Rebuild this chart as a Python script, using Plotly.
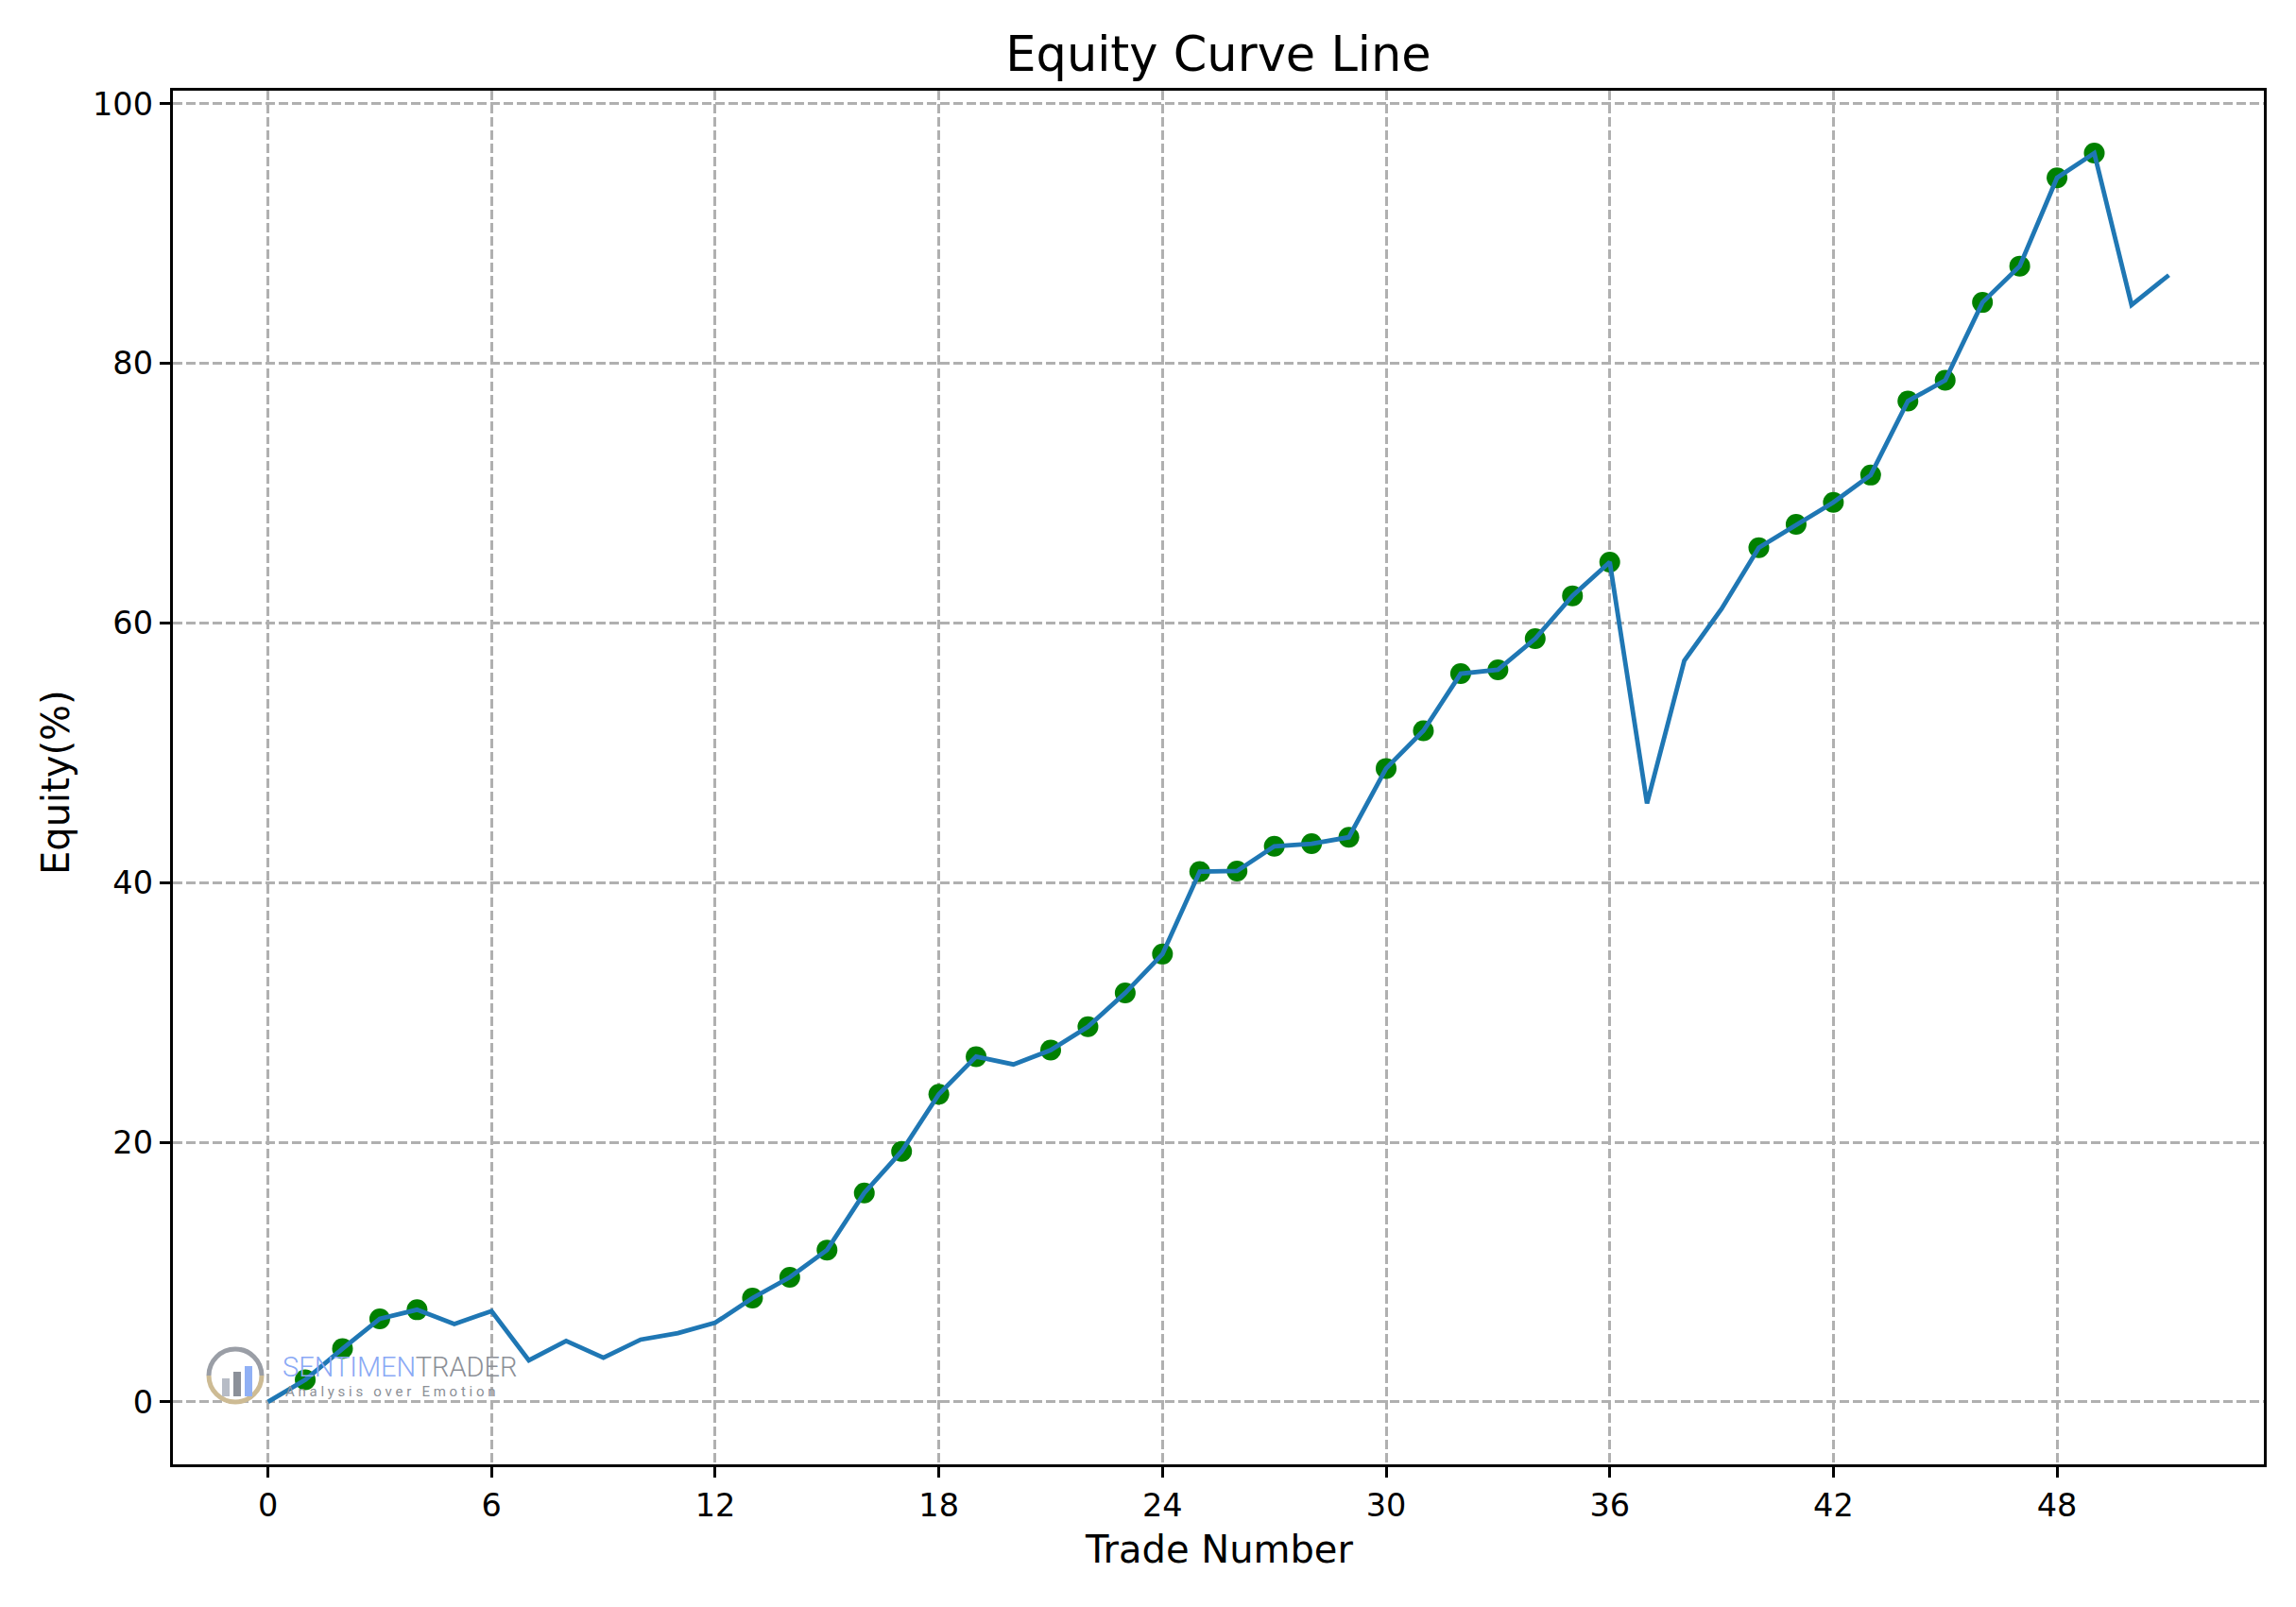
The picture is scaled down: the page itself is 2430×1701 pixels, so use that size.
import plotly.graph_objects as go

# ---------------- data ----------------
trade_number = list(range(52))
equity_pct = [0.0, 1.7, 4.1, 6.4, 7.1, 6.0, 7.0, 3.2, 4.7, 3.4,
              4.8, 5.3, 6.1, 8.0, 9.6, 11.7, 16.1, 19.3, 23.7, 26.6,
              26.0, 27.1, 28.9, 31.5, 34.5, 40.85, 40.9, 42.8, 43.0, 43.5,
              48.8, 51.7, 56.1, 56.4, 58.8, 62.1, 64.7, 46.1, 57.1, 61.1,
              65.8, 67.6, 69.3, 71.4, 77.1, 78.7, 84.7, 87.5, 94.3, 96.2,
              84.5, 86.8]
x_ticks = [0, 6, 12, 18, 24, 30, 36, 42, 48]
y_ticks = [0, 20, 40, 60, 80, 100]

# new equity highs get a green marker
high_x, high_y = [], []
running = equity_pct[0]
for t, v in zip(trade_number[1:], equity_pct[1:]):
    if v > running:
        high_x.append(t)
        high_y.append(v)
    running = max(running, v)

# ---------------- layout geometry (pixels, page coords) ----------------
OFF = 8  # default body margin of the html page
W, H = 2430 - OFF, 1701 - OFF
L, R, T, B = 183, 2396, 96, 1550   # plot-area edges as seen on the page
FONT = "DejaVu Sans"


def px(x):
    return (x - L) / (R - L)


def py(y):
    return (B - y) / (B - T)


fig = go.Figure()
fig.add_trace(go.Scatter(x=high_x, y=high_y, mode="markers",
                         marker=dict(color="#008000", size=22, line=dict(width=0)),
                         showlegend=False, hoverinfo="skip"))
fig.add_trace(go.Scatter(x=trade_number, y=equity_pct, mode="lines",
                         line=dict(color="#1f77b4", width=4.8),
                         showlegend=False))

axis_common = dict(
    showline=True, linecolor="black", linewidth=2.6, mirror=True,
    ticks="outside", ticklen=11.5, tickwidth=2.6, tickcolor="black",
    showgrid=True, gridcolor="#b0b0b0", gridwidth=2.6, griddash="10px,4px",
    zeroline=False, tickfont=dict(family=FONT, size=33.5, color="black"),
)
xmin, xmax = min(trade_number), max(trade_number)
ymin, ymax = min(equity_pct), max(equity_pct)
fig.update_xaxes(range=[xmin - 0.05 * (xmax - xmin), xmax + 0.05 * (xmax - xmin)],
                 tickmode="array", tickvals=x_ticks,
                 ticktext=[str(v) for v in x_ticks], **axis_common)
fig.update_yaxes(range=[ymin - 0.05 * (ymax - ymin), ymax + 0.05 * (ymax - ymin)],
                 tickmode="array", tickvals=y_ticks,
                 ticktext=[str(v) for v in y_ticks], **axis_common)

annotations = [
    dict(text="Trade Number", xref="paper", yref="paper", x=0.5, y=py(1640),
         xanchor="center", yanchor="middle", showarrow=False,
         font=dict(family=FONT, size=40, color="black")),
    dict(text="Equity(%)", xref="paper", yref="paper", x=px(59), y=py(828),
         xanchor="center", yanchor="middle", showarrow=False, textangle=-90,
         font=dict(family=FONT, size=40, color="black")),
    # watermark
    dict(text="<span style='color:#8aa9f5'>SENTIMEN</span><span style='color:#8c9097'>TRADER</span>",
         xref="paper", yref="paper", x=px(297), y=py(1447),
         xanchor="left", yanchor="middle", showarrow=False,
         font=dict(family="Roboto", size=29, weight=300)),
    dict(text="A n a l y s i s &nbsp; o v e r &nbsp; E m o t i o n",
         xref="paper", yref="paper", x=px(300), y=py(1473),
         xanchor="left", yanchor="middle", showarrow=False,
         font=dict(family="Roboto", size=15, color="#8c9097")),
]

# watermark icon
cx, cy, r, k = 249, 1456, 28, 0.5523


def P(x, y):
    return f"{px(x):.6f},{py(y):.6f}"


top_arc = (f"M {P(cx - r, cy)} C {P(cx - r, cy - k * r)} {P(cx - k * r, cy - r)} {P(cx, cy - r)} "
           f"C {P(cx + k * r, cy - r)} {P(cx + r, cy - k * r)} {P(cx + r, cy)}")
bot_arc = (f"M {P(cx + r, cy)} C {P(cx + r, cy + k * r)} {P(cx + k * r, cy + r)} {P(cx, cy + r)} "
           f"C {P(cx - k * r, cy + r)} {P(cx - r, cy + k * r)} {P(cx - r, cy)}")
shapes = [
    dict(type="path", xref="paper", yref="paper", path=top_arc,
         line=dict(color="#9a9ea6", width=5)),
    dict(type="path", xref="paper", yref="paper", path=bot_arc,
         line=dict(color="#cdbb94", width=5)),
]
for (x0, x1, y0, col) in [(235, 243, 1459, "#b7bcc6"), (247, 255, 1452, "#8b9099"),
                          (259, 267, 1446, "#90b0f5")]:
    shapes.append(dict(type="rect", xref="paper", yref="paper",
                       x0=px(x0), x1=px(x1), y0=py(1478), y1=py(y0),
                       fillcolor=col, line=dict(width=0)))

fig.update_layout(
    width=W, height=H,
    margin=dict(l=L - OFF, r=W - (R - OFF), t=T - OFF, b=H - (B - OFF), autoexpand=False),
    paper_bgcolor="white", plot_bgcolor="white",
    title=dict(text="Equity Curve Line", x=0.5, xref="paper",
               y=1 - (57 - OFF) / H, yref="container", xanchor="center", yanchor="middle",
               font=dict(family=FONT, size=51, color="black")),
    annotations=annotations, shapes=shapes,
)

fig.write_html("out.html")
